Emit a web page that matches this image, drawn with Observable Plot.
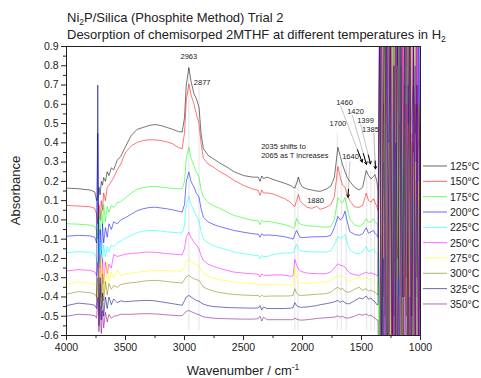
<!DOCTYPE html>
<html><head><meta charset="utf-8">
<script src="https://cdn.jsdelivr.net/npm/d3@7"></script>
<script src="https://cdn.jsdelivr.net/npm/@observablehq/plot@0.6"></script>
<style>body{margin:0;background:#fff;} svg{display:block}</style>
</head><body><div id="chart"></div>
<script>
// Wavenumber grid (cm^-1), shared by all spectra
const wavenumbers = [
  4000,3900,3800,3760,3745,3735,3725,3715,3705,3695,
  3685,3670,3655,3640,3620,3600,3570,3540,3500,3450,
  3400,3350,3300,3250,3200,3150,3100,3050,3020,3000,
  2985,2963,2945,2920,2900,2877,2860,2840,2800,2750,
  2700,2640,2580,2500,2420,2375,2360,2345,2330,2300,
  2250,2200,2150,2100,2080,2065,2050,2035,2020,2000,
  1960,1920,1880,1850,1800,1760,1730,1700,1680,1660,
  1640,1620,1600,1560,1520,1490,1460,1440,1420,1399,1385,1370,
  1360,1345,1330,1315,1300,1285,1270,1255,1240,1225,1210,1195,1180,
  1165,1150,1135,1120,1105,1090,1075,1060,1045,1030,1015,1000
];
const temperatures = ["125","150","175","200","225","250","275","300","325","350"];
const seriesColors = ["#000000","#ff0000","#00ff00","#0000ff","#00ffff","#ff00ff","#ffff00","#808000","#000080","#800080"];

const abs125 = [0.165,0.162,0.155,0.145,0.10,0.12,0.17,0.13,0.20,0.18,
  0.22,0.20,0.25,0.23,0.27,0.26,0.31,0.33,0.38,0.44,
  0.47,0.48,0.49,0.495,0.49,0.48,0.47,0.458,0.456,0.53,
  0.70,0.79,0.72,0.655,0.63,0.585,0.45,0.37,0.335,0.315,
  0.295,0.274,0.25,0.23,0.222,0.222,0.20,0.228,0.215,0.222,
  0.21,0.20,0.19,0.178,0.17,0.165,0.19,0.222,0.19,0.17,
  0.16,0.155,0.15,0.148,0.16,0.175,0.22,0.377,0.33,0.285,
  0.25,0.22,0.20,0.17,0.155,0.17,0.256,0.23,0.213,0.225,0.235,0.20,
  0.15,-0.9,1.2,-0.4,0.9,-1.1,0.3,1.3,-0.8,0.2,-1.2,1.1,-0.3,
  0.8,-1.0,0.5,1.2,-0.6,0.4,0.55,0.7,0.45,0.6,0.5,0.4];
const abs150 = [0.075,0.072,0.068,0.06,0.03,-0.02,0.08,0.00,0.10,0.05,
  0.14,0.10,0.17,0.18,0.20,0.22,0.26,0.29,0.35,0.385,
  0.403,0.412,0.416,0.415,0.412,0.405,0.395,0.375,0.369,0.45,
  0.62,0.706,0.65,0.60,0.55,0.50,0.40,0.32,0.29,0.272,
  0.25,0.23,0.205,0.179,0.16,0.153,0.127,0.155,0.14,0.14,
  0.135,0.122,0.11,0.09,0.075,0.07,0.10,0.132,0.10,0.085,
  0.065,0.06,0.07,0.055,0.065,0.08,0.12,0.277,0.22,0.18,
  0.17,0.13,0.10,0.068,0.065,0.075,0.139,0.10,0.092,0.11,0.09,0.07,
  0.05,1.1,-1.0,0.6,-0.5,1.2,-1.1,0.2,0.9,-0.9,1.3,-0.2,0.5,
  -1.2,1.0,-0.4,0.3,1.1,-0.7,0.45,0.35,0.6,0.3,0.42,0.35];
const abs175 = [-0.02,-0.022,-0.027,-0.035,-0.055,-0.10,0.02,-0.08,0.05,-0.03,
  0.08,-0.01,0.07,0.04,0.075,0.065,0.09,0.095,0.115,0.14,
  0.16,0.168,0.172,0.173,0.17,0.167,0.163,0.162,0.162,0.20,
  0.32,0.377,0.32,0.28,0.25,0.222,0.16,0.118,0.09,0.072,
  0.06,0.04,0.023,0.01,-0.003,-0.005,-0.025,-0.002,-0.01,-0.008,
  -0.012,-0.018,-0.025,-0.035,-0.045,-0.035,0.008,-0.01,-0.022,-0.026,
  -0.03,-0.032,-0.033,-0.036,-0.038,-0.035,0.0,0.115,0.10,0.09,
  0.115,0.06,0.005,-0.025,-0.034,-0.025,0.006,-0.012,-0.01,0.006,-0.01,-0.02,
  -0.03,-1.0,0.8,-0.6,1.2,-0.2,-1.1,0.9,-0.3,1.2,-0.8,0.1,1.0,
  -1.1,0.3,0.9,-0.9,0.0,1.1,-0.5,-0.1,0.2,-0.4,0.1,-0.2];
const abs200 = [-0.085,-0.08,-0.083,-0.09,-0.12,0.45,-0.25,-0.05,-0.20,-0.02,
  -0.12,-0.04,-0.09,-0.02,-0.05,-0.01,-0.02,0.0,0.012,0.03,
  0.048,0.058,0.064,0.066,0.062,0.058,0.052,0.045,0.04,0.08,
  0.20,0.248,0.20,0.17,0.14,0.118,0.06,0.014,-0.01,-0.025,
  -0.035,-0.045,-0.055,-0.064,-0.072,-0.074,-0.09,-0.072,-0.08,-0.078,
  -0.08,-0.083,-0.088,-0.095,-0.10,-0.075,-0.055,-0.075,-0.09,-0.092,
  -0.09,-0.088,-0.088,-0.087,-0.087,-0.08,-0.04,0.018,0.0,0.01,
  0.045,-0.01,-0.06,-0.075,-0.08,-0.072,-0.041,-0.07,-0.062,-0.055,-0.07,-0.08,
  -0.09,1.2,-1.2,0.3,-0.8,1.0,0.1,-1.0,1.3,-0.5,0.4,-1.2,1.1,
  -0.2,-0.9,1.2,-0.3,0.7,-1.1,1.0,-0.6,0.8,-1.0,0.9,-0.5];
const abs225 = [-0.17,-0.165,-0.168,-0.175,-0.20,-0.28,-0.10,-0.25,-0.12,-0.22,
  -0.13,-0.19,-0.14,-0.165,-0.13,-0.14,-0.12,-0.11,-0.095,-0.08,
  -0.066,-0.058,-0.055,-0.055,-0.058,-0.062,-0.064,-0.067,-0.069,-0.03,
  0.08,0.122,0.08,0.05,0.02,-0.003,-0.06,-0.098,-0.12,-0.135,
  -0.145,-0.155,-0.167,-0.175,-0.183,-0.185,-0.202,-0.185,-0.19,-0.19,
  -0.18,-0.175,-0.172,-0.17,-0.172,-0.15,-0.127,-0.15,-0.16,-0.162,
  -0.165,-0.166,-0.166,-0.167,-0.167,-0.16,-0.13,-0.085,-0.095,-0.09,
  -0.075,-0.12,-0.155,-0.172,-0.176,-0.165,-0.138,-0.165,-0.16,-0.15,-0.165,-0.175,
  -0.18,-0.8,1.0,-1.1,0.5,-0.3,1.2,-0.9,0.0,1.1,-1.2,0.6,-0.4,
  1.2,-0.7,0.2,1.0,-1.1,0.4,-0.2,0.1,-0.4,0.0,-0.3,-0.1];
const abs250 = [-0.265,-0.258,-0.262,-0.27,-0.29,-0.22,-0.45,-0.18,-0.40,-0.20,
  -0.33,-0.22,-0.28,-0.23,-0.25,-0.18,-0.19,-0.185,-0.178,-0.174,
  -0.172,-0.168,-0.167,-0.168,-0.172,-0.175,-0.177,-0.18,-0.181,-0.15,
  -0.09,-0.064,-0.09,-0.115,-0.13,-0.15,-0.185,-0.21,-0.23,-0.242,
  -0.252,-0.262,-0.271,-0.276,-0.28,-0.282,-0.297,-0.28,-0.288,-0.288,
  -0.286,-0.285,-0.287,-0.293,-0.29,-0.205,-0.235,-0.255,-0.265,-0.27,
  -0.276,-0.278,-0.279,-0.28,-0.279,-0.27,-0.25,-0.228,-0.235,-0.238,
  -0.245,-0.262,-0.275,-0.285,-0.288,-0.28,-0.271,-0.278,-0.275,-0.28,-0.282,-0.29,
  -0.29,1.0,-0.9,1.2,-1.2,0.2,0.9,-0.6,1.1,-1.0,0.3,1.2,-1.1,
  0.0,1.0,-0.8,0.6,-1.2,1.2,-0.5,0.9,-0.9,1.1,-0.7,1.0];
const abs275 = [-0.335,-0.322,-0.328,-0.335,-0.35,-0.42,-0.22,-0.40,-0.18,-0.45,
  -0.25,-0.36,-0.22,-0.32,-0.27,-0.30,-0.26,-0.29,-0.28,-0.276,
  -0.272,-0.268,-0.264,-0.262,-0.262,-0.264,-0.265,-0.266,-0.266,-0.245,
  -0.215,-0.202,-0.215,-0.225,-0.232,-0.237,-0.258,-0.28,-0.292,-0.302,
  -0.31,-0.316,-0.322,-0.328,-0.331,-0.332,-0.342,-0.332,-0.336,-0.335,
  -0.334,-0.335,-0.336,-0.338,-0.335,-0.245,-0.30,-0.32,-0.328,-0.33,
  -0.33,-0.328,-0.326,-0.324,-0.322,-0.315,-0.30,-0.288,-0.298,-0.292,
  -0.305,-0.314,-0.318,-0.305,-0.297,-0.31,-0.297,-0.31,-0.305,-0.315,-0.32,-0.33,
  -0.33,-1.1,0.9,-0.2,1.2,-1.0,0.4,-0.7,1.1,0.0,-1.2,0.8,-0.3,
  1.2,-1.1,1.2,-0.9,0.5,-0.4,1.0,-1.0,0.3,-0.6,0.2,-0.4];
const abs300 = [-0.385,-0.372,-0.378,-0.385,-0.40,-0.30,-0.50,-0.33,-0.46,-0.28,
  -0.42,-0.32,-0.39,-0.33,-0.36,-0.34,-0.35,-0.335,-0.33,-0.326,
  -0.323,-0.318,-0.315,-0.314,-0.316,-0.32,-0.323,-0.326,-0.328,-0.31,
  -0.295,-0.288,-0.296,-0.305,-0.31,-0.314,-0.33,-0.349,-0.36,-0.37,
  -0.377,-0.383,-0.387,-0.39,-0.392,-0.392,-0.40,-0.39,-0.397,-0.396,
  -0.395,-0.395,-0.395,-0.394,-0.392,-0.357,-0.38,-0.39,-0.392,-0.392,
  -0.39,-0.388,-0.386,-0.385,-0.383,-0.375,-0.36,-0.349,-0.36,-0.355,
  -0.37,-0.375,-0.375,-0.36,-0.349,-0.365,-0.357,-0.37,-0.365,-0.372,-0.375,-0.385,
  -0.39,0.8,-1.2,1.1,-0.4,-1.0,1.2,0.1,-0.9,1.0,-0.2,-1.1,0.9,
  0.3,-1.2,0.7,-0.5,1.1,-1.0,0.4,-0.8,1.0,-0.3,0.6,-0.9];
const abs325 = [-0.445,-0.432,-0.438,-0.443,-0.46,0.70,-0.55,-0.30,-0.52,-0.38,
  -0.50,-0.40,-0.46,-0.40,-0.44,-0.41,-0.43,-0.42,-0.425,-0.422,
  -0.42,-0.418,-0.418,-0.42,-0.425,-0.43,-0.435,-0.44,-0.443,-0.42,
  -0.40,-0.392,-0.40,-0.41,-0.418,-0.422,-0.43,-0.437,-0.445,-0.45,
  -0.452,-0.455,-0.456,-0.457,-0.458,-0.457,-0.445,-0.468,-0.452,-0.46,
  -0.46,-0.46,-0.46,-0.458,-0.455,-0.43,-0.445,-0.45,-0.453,-0.453,
  -0.452,-0.448,-0.445,-0.44,-0.435,-0.43,-0.425,-0.418,-0.428,-0.42,
  -0.43,-0.435,-0.435,-0.42,-0.405,-0.41,-0.395,-0.412,-0.405,-0.42,-0.425,-0.44,
  -0.44,1.3,-1.0,0.5,1.2,-1.2,0.2,1.1,-1.1,0.8,-0.6,1.2,-1.0,
  0.9,-0.4,1.1,-1.2,0.3,1.2,-0.9,1.0,-1.1,0.7,-1.0,1.2];
const abs350 = [-0.50,-0.49,-0.493,-0.497,-0.51,-0.40,-0.58,-0.45,-0.59,-0.47,
  -0.56,-0.48,-0.53,-0.49,-0.51,-0.50,-0.497,-0.49,-0.49,-0.49,
  -0.488,-0.487,-0.487,-0.488,-0.49,-0.493,-0.495,-0.497,-0.497,-0.485,
  -0.475,-0.47,-0.476,-0.482,-0.488,-0.492,-0.498,-0.503,-0.507,-0.51,
  -0.512,-0.513,-0.514,-0.515,-0.515,-0.513,-0.50,-0.525,-0.505,-0.518,
  -0.518,-0.518,-0.518,-0.518,-0.518,-0.51,-0.515,-0.518,-0.52,-0.52,
  -0.518,-0.515,-0.512,-0.51,-0.508,-0.506,-0.505,-0.498,-0.505,-0.50,
  -0.508,-0.51,-0.508,-0.50,-0.49,-0.495,-0.488,-0.498,-0.495,-0.505,-0.51,-0.52,
  -0.52,-1.2,1.1,-0.8,0.6,1.2,-1.1,0.9,-0.4,-1.2,1.2,-0.7,0.4,
  1.0,-1.2,0.2,1.1,-0.8,0.9,-1.2,1.2,-0.6,1.0,-1.1,1.2];

const xTicks = [4000,3500,3000,2500,2000,1500,1000];
const xMinorTicks = [3750,3250,2750,2250,1750,1250];
const yTicks = [-0.6,-0.5,-0.4,-0.3,-0.2,-0.1,0.0,0.1,0.2,0.3,0.4,0.5,0.6,0.7,0.8,0.9];
const yMinorTicks = [-0.55,-0.45,-0.35,-0.25,-0.15,-0.05,0.05,0.15,0.25,0.35,0.45,0.55,0.65,0.75,0.85];

// Peak labels (centred)
const peakText = ["2963","2877","1700","1460","1420","1399","1385","1640","1880"];
const peakWn   = [2963,2850,1700,1644,1551,1466,1424,1593,1890];
const peakAbs  = [0.848,0.715,0.499,0.611,0.564,0.516,0.467,0.329,0.101];
// Note (left-aligned)
const noteText = ["2035 shifts to","2065 as T increases"];
const noteWn = [2350,2350];
const noteAbs = [0.381,0.335];

// Faint vertical peak markers
const markerWn  = [2963,2877,2065,2038,1706,1672,1630,1455,1420,1390];
const markerTop = [0.80,0.69,0.20,0.22,0.45,0.30,0.30,0.25,0.25,0.45];
const markerBottom = -0.575;

// Leader lines with arrowheads
const leaderFromWn = [1678,1579,1508,1396,1598];
const leaderFromAbs = [0.592,0.545,0.497,0.45,0.305];
const leaderToWn = [1494,1458,1424,1381,1614];
const leaderToAbs = [0.30,0.288,0.291,0.265,0.118];

const allSeries = [abs125,abs150,abs175,abs200,abs225,abs250,abs275,abs300,abs325,abs350];
const data = temperatures.flatMap((t, i) => wavenumbers.map((w, j) => ({t, wn: w, a: allSeries[i][j]})));
const peaks = peakText.map((s, i) => ({s, wn: peakWn[i], a: peakAbs[i]}));
const notes = noteText.map((s, i) => ({s, wn: noteWn[i], a: noteAbs[i]}));
const markers = markerWn.map((w, i) => ({wn: w, top: markerTop[i], bottom: markerBottom}));
const leaders = leaderFromWn.map((w, i) => ({x1: w, y1: leaderFromAbs[i], x2: leaderToWn[i], y2: leaderToAbs[i]}));
const tips = leaders.map(d => ({x1: d.x2 + (d.x1 - d.x2) * 0.22, y1: d.y2 + (d.y1 - d.y2) * 0.22, x2: d.x2, y2: d.y2}));

const font = "'Liberation Sans', Arial, sans-serif";
const svg = Plot.plot({
  width: 481, height: 378,
  marginTop: 46, marginLeft: 66, marginRight: 61, marginBottom: 43,
  style: {fontFamily: font, fontSize: "10.5px", background: "white", color: "#222", overflow: "visible"},
  x: {domain: [4000, 1000]},
  y: {domain: [-0.6, 0.9]},
  color: {domain: temperatures, range: seriesColors},
  marks: [
    Plot.ruleX(markers, {x: "wn", y1: "top", y2: "bottom", stroke: "#d8d8d8", strokeWidth: 0.7}),
    Plot.link(leaders, {x1: "x1", y1: "y1", x2: "x2", y2: "y2", stroke: "#aaa", strokeWidth: 0.7}),
    Plot.line(data, {x: "wn", y: "a", z: "t", stroke: "t", strokeWidth: 0.9, strokeOpacity: 0.6, clip: true}),
    Plot.arrow(tips, {x1: "x1", y1: "y1", x2: "x2", y2: "y2", stroke: "black", strokeWidth: 1, headLength: 4}),
    Plot.text(peaks, {x: "wn", y: "a", text: "s", textAnchor: "middle", fontSize: 7.5, fill: "#222"}),
    Plot.text(notes, {x: "wn", y: "a", text: "s", textAnchor: "start", fontSize: 7.5, fill: "#222"}),
    Plot.frame({stroke: "#222", strokeWidth: 1}),
    Plot.axisX(xTicks, {tickSize: 5, tickPadding: 3, tickFormat: d => String(d), label: null}),
    Plot.axisX(xMinorTicks, {tickSize: 3, tickFormat: () => "", label: null}),
    Plot.axisY(yTicks, {tickSize: 5, tickPadding: 3, tickFormat: d => d.toFixed(1), label: null}),
    Plot.axisY(yMinorTicks, {tickSize: 3, tickFormat: () => "", label: null})
  ]
});
document.getElementById("chart").appendChild(svg);

const s = d3.select(svg);
// Titles
const t1 = s.append("text").attr("x", 67).attr("y", 22).attr("text-anchor", "start").attr("font-size", 13).attr("font-family", font).attr("fill", "#222");
t1.append("tspan").text("Ni");
t1.append("tspan").attr("font-size", 8.5).attr("dy", 3).text("2");
t1.append("tspan").attr("dy", -3).text("P/Silica (Phosphite Method) Trial 2");
const t2 = s.append("text").attr("x", 67).attr("y", 39).attr("text-anchor", "start").attr("font-size", 13).attr("font-family", font).attr("fill", "#222");
t2.append("tspan").text("Desorption of chemisorped 2MTHF at different temperatures in H");
t2.append("tspan").attr("font-size", 8.5).attr("dy", 3).text("2");
// Axis labels
s.append("text").attr("transform", "translate(19.5,190.5) rotate(-90)").attr("text-anchor", "middle")
  .attr("font-size", 13).attr("font-family", font).attr("fill", "#222").text("Absorbance");
const xl = s.append("text").attr("x", 243).attr("y", 375).attr("text-anchor", "middle")
  .attr("font-size", 13).attr("font-family", font).attr("fill", "#222");
xl.append("tspan").text("Wavenumber / cm");
xl.append("tspan").attr("font-size", 8.5).attr("dy", -5).text("-1");
// Legend
const lg = s.append("g").attr("text-anchor", "start");
temperatures.forEach((t, i) => {
  const y = 166 + i * 15.33;
  lg.append("line").attr("x1", 423).attr("x2", 447).attr("y1", y).attr("y2", y)
    .attr("stroke", seriesColors[i]).attr("stroke-opacity", 0.6).attr("stroke-width", 1);
  lg.append("text").attr("x", 450).attr("y", y + 4).attr("text-anchor", "start").attr("font-size", 10.5).attr("font-family", font)
    .attr("fill", "#222").text(t + "°C");
});
</script></body></html>
